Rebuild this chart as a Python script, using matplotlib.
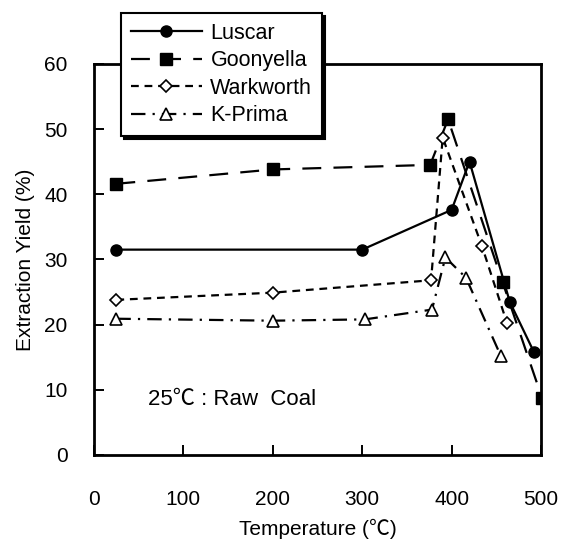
import matplotlib
matplotlib.use("Agg")
import matplotlib.pyplot as plt

plt.rcParams['font.family'] = ['Liberation Sans', 'Noto Sans CJK JP', 'DejaVu Sans']

# Extraction yield (%) vs. extraction temperature (deg C)
luscar_t = [25, 300, 400, 420, 465, 492]
luscar_y = [31.5, 31.5, 37.6, 45.0, 23.5, 15.8]

goonyella_t = [25, 200, 376, 396, 457, 501]
goonyella_y = [41.6, 43.8, 44.5, 51.5, 26.5, 8.8]

warkworth_t = [25, 200, 377, 390, 434, 462]
warkworth_y = [23.8, 24.9, 26.8, 48.7, 32.0, 20.2]

kprima_t = [25, 200, 303, 378, 393, 416, 455]
kprima_y = [20.9, 20.6, 20.8, 22.3, 30.3, 27.2, 15.2]

series_names = ["Luscar", "Goonyella", "Warkworth", "K-Prima"]
x_ticks = [0, 100, 200, 300, 400, 500]
y_ticks = [0, 10, 20, 30, 40, 50, 60]

fig = plt.figure(figsize=(5.63, 5.41), dpi=100)
ax = fig.add_axes([0.167, 0.159, 0.794, 0.723])

lw = 1.6
ms = 8
ax.plot(luscar_t, luscar_y, color='black', lw=lw, ls='-',
        marker='o', ms=ms, mfc='black', mec='black', label=series_names[0])
ax.plot(goonyella_t, goonyella_y, color='black', lw=lw, ls=(0, (8.5, 5.5)),
        marker='s', ms=ms, mfc='black', mec='black', label=series_names[1])
ax.plot(warkworth_t, warkworth_y, color='black', lw=lw, ls=(0, (3.5, 2.6)),
        marker='D', ms=6.5, mfc='white', mec='black', mew=1.2, label=series_names[2])
ax.plot(kprima_t, kprima_y, color='black', lw=lw, ls=(0, (6.5, 3.2, 1, 3.2)),
        marker='^', ms=8, mfc='white', mec='black', mew=1.2, label=series_names[3])

ax.set_xlim(0, 500)
ax.set_ylim(0, 60)
ax.set_xticks(x_ticks)
ax.set_yticks(y_ticks)
ax.tick_params(direction='in', length=7, width=1.4, labelsize=15,
               top=False, right=False)
ax.tick_params(axis='x', pad=25)
ax.tick_params(axis='y', pad=19)
for s in ax.spines.values():
    s.set_linewidth(2.0)

ax.set_xlabel("Temperature (℃)", fontsize=15, labelpad=7)
ax.set_ylabel("Extraction Yield (%)", fontsize=15, labelpad=7)

ax.text(60, 8.5, "25℃ : Raw  Coal", fontsize=16, va='center', ha='left')

leg = ax.legend(loc='upper left', bbox_to_anchor=(0.215, 0.976),
                bbox_transform=fig.transFigure, fontsize=15.5,
                handlelength=3.3, handletextpad=0.4, labelspacing=0.3,
                borderpad=0.45, borderaxespad=0.0, fancybox=False, frameon=True,
                shadow={'color': 'black', 'alpha': 1.0})
leg.get_frame().set_edgecolor('black')
leg.get_frame().set_linewidth(1.5)
leg.set_zorder(10)

fig.savefig("out.png", dpi=100)
